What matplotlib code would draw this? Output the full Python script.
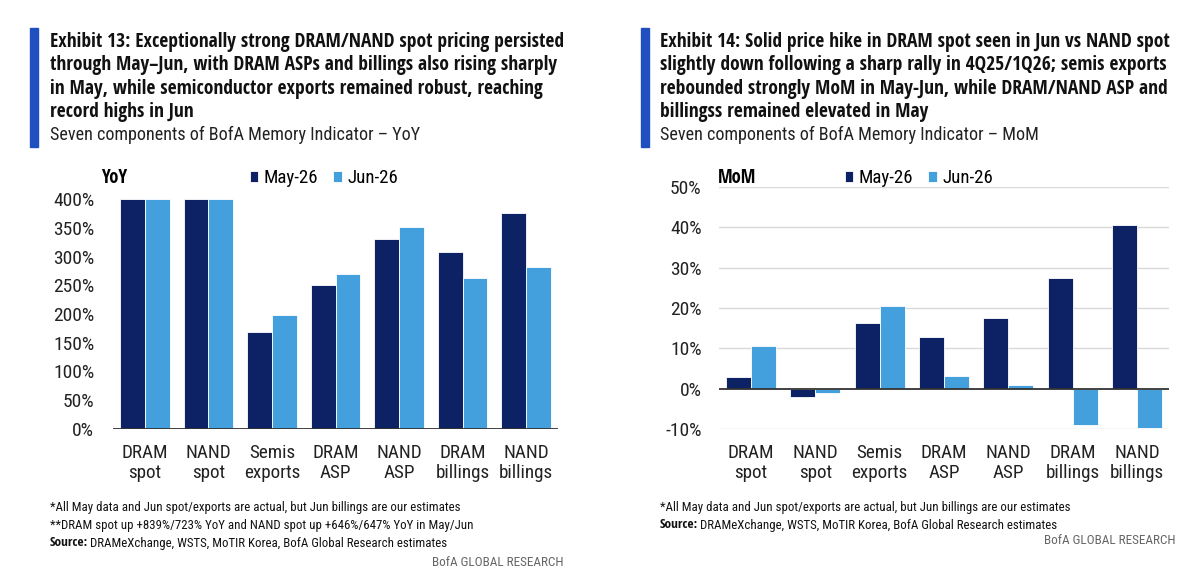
import matplotlib
matplotlib.use("Agg")
import matplotlib.pyplot as plt
import matplotlib.font_manager as fm
from matplotlib.font_manager import FontProperties
from matplotlib.patches import Rectangle
from matplotlib.ticker import FuncFormatter
import numpy as np

# data
categories = ["DRAM\nspot", "NAND\nspot", "Semis\nexports", "DRAM\nASP",
              "NAND\nASP", "DRAM\nbillings", "NAND\nbillings"]
series = ["May-26", "Jun-26"]
yoy_may = [400, 400, 168, 251, 330, 308, 376]   # spot capped at 400% on chart
yoy_jun = [400, 400, 198, 270, 351, 263, 282]
mom_may = [2.9, -2.1, 16.3, 12.7, 17.6, 27.5, 40.5]
mom_jun = [10.7, -1.1, 20.5, 3.1, 0.8, -8.9, -9.7]

left_title = ["Exhibit 13: Exceptionally strong DRAM/NAND spot pricing persisted",
              "through May\u2013Jun, with DRAM ASPs and billings also rising sharply",
              "in May, while semiconductor exports remained robust, reaching",
              "record highs in Jun"]
left_sub = "Seven components of BofA Memory Indicator \u2013 YoY"
right_title = ["Exhibit 14: Solid price hike in DRAM spot seen in Jun vs NAND spot",
               "slightly down following a sharp rally in 4Q25/1Q26; semis exports",
               "rebounded strongly MoM in May-Jun, while DRAM/NAND ASP and",
               "billingss remained elevated in May"]
right_sub = "Seven components of BofA Memory Indicator \u2013 MoM"
note1 = "*All May data and Jun spot/exports are actual, but Jun billings are our estimates"
note2 = "**DRAM spot up +839%/723% YoY and NAND spot up +646%/647% YoY in May/Jun"
source = "DRAMeXchange, WSTS, MoTIR Korea, BofA Global Research estimates"

NAVY = "#0C2264"
LIGHT = "#43A0DC"
ACCENT = "#2050C0"


# the reference uses a condensed sans; find condensed regular / bold files
def wnum(w):
    if isinstance(w, str):
        return int(w) if w.isdigit() else fm.weight_dict.get(w, 400)
    return int(w)


narrow = ("condensed", "semi-condensed", "extra-condensed", "ultra-condensed")
pref = ["Noto Sans", "Open Sans", "Roboto", "DejaVu Sans", "Liberation Sans"]


def pick(target):
    best, key = None, None
    for f in fm.fontManager.ttflist:
        is_narrow = str(f.stretch) in narrow or "Condensed" in f.name or "Narrow" in f.name
        if not is_narrow or f.style != "normal":
            continue
        fam = next((i for i, p in enumerate(pref) if f.name.startswith(p)), len(pref))
        ext = 0 if str(f.stretch) in ("condensed", "semi-condensed") or "Narrow" in f.name else 1
        k = (abs(wnum(f.weight) - target) // 50, ext, fam)
        if key is None or k < key:
            best, key = f, k
    return best


reg_f, bold_f = pick(400), pick(700)


def fp(bold=False, size=12):
    f = bold_f if bold else reg_f
    if f is not None and abs(wnum(f.weight) - (700 if bold else 400)) <= 150:
        return FontProperties(fname=f.fname, size=size)
    return FontProperties(family="DejaVu Sans", weight="bold" if bold else "normal",
                          stretch="condensed", size=size * 0.8)


W, H = 1200, 583
fig = plt.figure(figsize=(12, 5.83), dpi=100)


def fx(x):
    return x / W


def fy(y):
    return 1 - y / H


def header(x_bar, x_txt, lines, sub):
    fig.patches.append(Rectangle((fx(x_bar), fy(147)), fx(8), 119 / H,
                                 transform=fig.transFigure, color=ACCENT))
    for i, ln in enumerate(lines):
        fig.text(fx(x_txt), fy(42 + 23.3 * i), ln, fontproperties=fp(True, 14.0),
                 va="center", ha="left", color="#111111")
    fig.text(fx(x_txt), fy(135), sub, fontproperties=fp(False, 13.1),
             va="center", ha="left", color="#222222")


def footer(x_txt, y0, notes, x_right, y_brand):
    y = y0
    for n in notes:
        fig.text(fx(x_txt), fy(y), n, fontproperties=fp(False, 9.3),
                 va="center", ha="left", color="#111111")
        y += 18
    t = fig.text(fx(x_txt), fy(y), "Source:", fontproperties=fp(True, 9.6),
                 va="center", ha="left", color="#111111")
    r = fig.canvas.get_renderer()
    bb = t.get_window_extent(renderer=r)
    fig.text(bb.x1 / W + fx(2), fy(y), source, fontproperties=fp(False, 9.3),
             va="center", ha="left", color="#111111")
    fig.text(fx(x_right), fy(y_brand), "BofA GLOBAL RESEARCH", fontproperties=fp(False, 9.5),
             va="center", ha="right", color="#666666")


def bars(ax, may, jun, ymin, ymax, step, grid, pad):
    x = np.arange(len(categories))
    w = 0.39
    ax.bar(x - w / 2, may, w, color=NAVY, edgecolor="white", linewidth=0.6, label=series[0], zorder=3)
    ax.bar(x + w / 2, jun, w, color=LIGHT, edgecolor="white", linewidth=0.6, label=series[1], zorder=3)
    ax.set_xlim(-0.5, len(categories) - 0.5)
    ax.set_ylim(ymin, ymax)
    ax.set_yticks(np.arange(ymin, ymax + step / 2, step))
    ax.yaxis.set_major_formatter(FuncFormatter(lambda v, p: f"{v:.0f}%"))
    ax.set_xticks(x)
    ax.set_xticklabels(categories, linespacing=1.15)
    for s in ax.spines.values():
        s.set_visible(False)
    ax.tick_params(axis="both", length=0, colors="#222222")
    ax.tick_params(axis="y", pad=pad)
    ax.tick_params(axis="x", pad=11)
    for lab in ax.get_xticklabels():
        lab.set_fontproperties(fp(False, 13.8))
    for lab in ax.get_yticklabels():
        lab.set_fontproperties(fp(False, 14.0))
    if grid:
        for v in np.arange(ymin, ymax + step / 2, step):
            if v != 0:
                ax.axhline(v, color="#D9D9D9", linewidth=1.0, zorder=1)
    ax.axhline(0, color="#333333", linewidth=1.3, zorder=4)


def legend(ax, x_sq):
    h, l = ax.get_legend_handles_labels()
    fig.legend(h, l, loc="center left", bbox_to_anchor=(fx(x_sq), fy(178)), ncol=2,
               frameon=False, prop=fp(False, 13.6), handlelength=0.43, handleheight=0.5,
               handletextpad=0.3, columnspacing=0.8, borderpad=0, borderaxespad=0)


# left panel
header(30, 50, left_title, left_sub)
ax1 = fig.add_axes([fx(113), fy(429), fx(445), 230 / H])
bars(ax1, yoy_may, yoy_jun, 0, 400, 50, False, 13.5)
fig.text(fx(101), fy(178), "YoY", fontproperties=fp(True, 13.5), va="center", ha="left")
legend(ax1, 250)
footer(50, 507, [note1, note2], 563, 562)

# right panel
header(641, 660, right_title, right_sub)
ax2 = fig.add_axes([fx(719), fy(429), fx(450), 242 / H])
bars(ax2, mom_may, mom_jun, -10, 50, 10, True, 12.5)
fig.text(fx(718), fy(178), "MoM", fontproperties=fp(True, 13.5), va="center", ha="left")
legend(ax2, 845)
footer(660, 507, [note1], 1175, 541)

fig.savefig("out.png", dpi=100, facecolor="white")
